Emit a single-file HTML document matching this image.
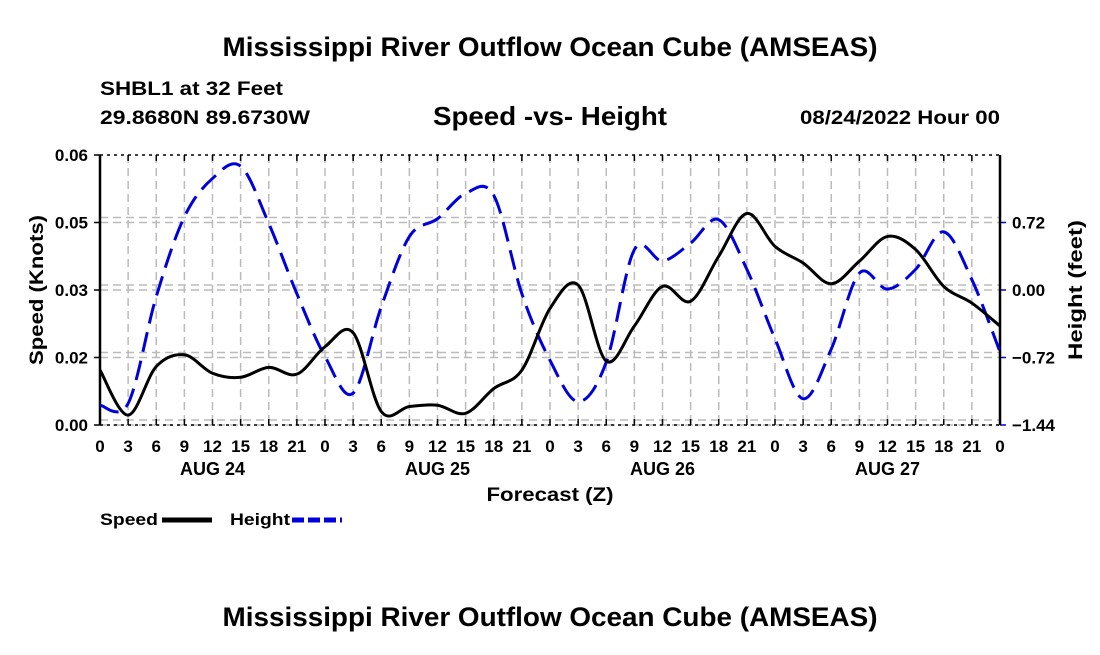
<!DOCTYPE html>
<html><head><meta charset="utf-8"><style>
body{margin:0;background:#fff;width:1100px;height:650px;overflow:hidden;font-family:"Liberation Sans",sans-serif}
svg text{font-family:"Liberation Sans",sans-serif;font-weight:bold;fill:#000}
</style></head><body>
<svg id="chart" width="1100" height="650" xmlns="http://www.w3.org/2000/svg">
<text x="550" y="56" font-size="27" text-anchor="middle" textLength="655" lengthAdjust="spacingAndGlyphs">Mississippi River Outflow Ocean Cube (AMSEAS)</text>
<text x="100" y="95" font-size="19" textLength="183" lengthAdjust="spacingAndGlyphs">SHBL1 at 32 Feet</text>
<text x="100" y="124" font-size="19" textLength="210" lengthAdjust="spacingAndGlyphs">29.8680N  89.6730W</text>
<text x="550" y="125" font-size="26" text-anchor="middle" textLength="234" lengthAdjust="spacingAndGlyphs">Speed -vs- Height</text>
<text x="1000" y="124" font-size="19" text-anchor="end" textLength="200" lengthAdjust="spacingAndGlyphs">08/24/2022 Hour 00</text>
<g id="grid"></g><g id="axes"></g><g id="series"></g>
<text x="550" y="501" font-size="19" text-anchor="middle" textLength="127" lengthAdjust="spacingAndGlyphs">Forecast (Z)</text>
<text transform="translate(43,290) rotate(-90)" font-size="19" text-anchor="middle" textLength="150" lengthAdjust="spacingAndGlyphs">Speed (Knots)</text>
<text transform="translate(1082,290) rotate(-90)" font-size="19" text-anchor="middle" textLength="140" lengthAdjust="spacingAndGlyphs">Height (feet)</text>
<g>
<text x="100" y="525" font-size="17" textLength="58" lengthAdjust="spacingAndGlyphs">Speed</text>
<line x1="162" y1="520" x2="212" y2="520" stroke="#000" stroke-width="5"/>
<text x="230" y="525" font-size="17" textLength="60" lengthAdjust="spacingAndGlyphs">Height</text>
<line x1="292" y1="520" x2="342" y2="520" stroke="#0000dd" stroke-width="5" stroke-dasharray="12,4"/>
</g>
<text x="550" y="626" font-size="27" text-anchor="middle" textLength="655" lengthAdjust="spacingAndGlyphs">Mississippi River Outflow Ocean Cube (AMSEAS)</text>
</svg>
<script>
const hours=[0,3,6,9,12,15,18,21,24,27,30,33,36,39,42,45,48,51,54,57,60,63,66,69,72,75,78,81,84,87,90,93,96];
const speedValues=[0.0122,0.0022,0.013,0.0156,0.0115,0.0106,0.0128,0.0113,0.0174,0.0205,0.003,0.0041,0.0044,0.0026,0.0081,0.0122,0.0259,0.0311,0.0142,0.022,0.0308,0.0275,0.0375,0.047,0.0397,0.036,0.0314,0.0364,0.0419,0.039,0.0308,0.0271,0.022];
const heightValues=[-1.23,-1.21,-0.07,0.78,1.19,1.32,0.71,-0.04,-0.71,-1.10,-0.18,0.57,0.76,1.03,1.01,-0.04,-0.75,-1.19,-0.77,0.43,0.31,0.50,0.75,0.22,-0.52,-1.16,-0.63,0.18,0.01,0.22,0.62,0.11,-0.66];
const xTickLabels=["0","3","6","9","12","15","18","21"];
const dayLabels=["AUG 24","AUG 25","AUG 26","AUG 27"];
const leftTicks=[0,0.015,0.03,0.045,0.06];
const leftTickLabels=["0.00","0.02","0.03","0.05","0.06"];
const rightTicks=[-1.44,-0.72,0,0.72];
const rightTickLabels=["\u22121.44","\u22120.72","0.00","0.72"];
const X0=100,X1=1000,Y0=425,Y1=155;
const xs=h=>X0+(h/96)*(X1-X0);
const yL=v=>Y0-(v/0.06)*(Y0-Y1);
const yR=v=>Y0-((v+1.44)/2.88)*(Y0-Y1);
const NS="http://www.w3.org/2000/svg";
function mk(tag,attrs,parent){const e=document.createElementNS(NS,tag);for(const k in attrs)e.setAttribute(k,attrs[k]);parent.appendChild(e);return e;}
const grid=document.getElementById('grid'),axes=document.getElementById('axes'),series=document.getElementById('series');
for(let h=0;h<=96;h+=3){
 const x=xs(h);
 if(h>0&&h<96){const g=mk('line',{x1:x,y1:Y1,x2:x,y2:Y0,stroke:'#bbb','stroke-width':1.5,'stroke-dasharray':'8,5'},grid);
 
 }
 mk('line',{x1:x,y1:Y0,x2:x,y2:Y0-6,stroke:'#000','stroke-width':1.5},axes);
 mk('line',{x1:x,y1:Y1,x2:x,y2:Y1+6,stroke:'#000','stroke-width':1.5},axes);
 const t=mk('text',{x:x,y:452,'font-size':17,'text-anchor':'middle'},axes);
 t.textContent=h===96?"0":xTickLabels[(h%24)/3];
 
 
}
dayLabels.forEach((d,i)=>{const t=mk('text',{x:xs(i*24+12),y:475,'font-size':18,'text-anchor':'middle'},axes);t.textContent=d;
 
 });
leftTicks.forEach((v,i)=>{const y=yL(v);
 if(i<4){const g=mk('line',{x1:X0,y1:y,x2:X1,y2:y,stroke:'#bbb','stroke-width':1.5,'stroke-dasharray':'8,5'},grid);
 
 }
 mk('line',{x1:X0-6,y1:y,x2:X0,y2:y,stroke:'#000','stroke-width':1.5},axes);
 const t=mk('text',{x:X0-12,y:y+6,'font-size':17,'text-anchor':'end'},axes);t.textContent=leftTickLabels[i];
 
 });
rightTicks.forEach((v,i)=>{const y=yR(v);
 const g=mk('line',{x1:X0,y1:y-5,x2:X1,y2:y-5,stroke:'#bbb','stroke-width':1.5,'stroke-dasharray':'8,5'},grid);
 
 
 mk('line',{x1:X1,y1:y,x2:X1+6,y2:y,stroke:'#0000dd','stroke-width':1.5},axes);
 const t=mk('text',{x:X1+12,y:y+6,'font-size':17},axes);t.textContent=rightTickLabels[i];
 
 });
mk('line',{x1:X0,y1:Y1,x2:X1,y2:Y1,stroke:'#000','stroke-width':1.5,'stroke-dasharray':'3,4'},axes);
mk('line',{x1:X0,y1:Y0,x2:X1,y2:Y0,stroke:'#000','stroke-width':1.5,'stroke-dasharray':'3,4'},axes);
mk('line',{x1:X0,y1:Y1,x2:X0,y2:Y0,stroke:'#000','stroke-width':2.5},axes);
mk('line',{x1:X1,y1:Y1,x2:X1,y2:Y0,stroke:'#000','stroke-width':2.5},axes);
function smooth(pts){let d=`M${pts[0][0]},${pts[0][1]}`;
 for(let i=0;i<pts.length-1;i++){const p0=pts[i-1]||pts[i],p1=pts[i],p2=pts[i+1],p3=pts[i+2]||p2;
 d+=` C${p1[0]+(p2[0]-p0[0])/6},${p1[1]+(p2[1]-p0[1])/6} ${p2[0]-(p3[0]-p1[0])/6},${p2[1]-(p3[1]-p1[1])/6} ${p2[0]},${p2[1]}`;}
 return d;}
const hp=mk('path',{d:smooth(hours.map((h,i)=>[xs(h),yR(heightValues[i])])),fill:'none',stroke:'#0000dd','stroke-width':3,'stroke-dasharray':'20,9'},series);


const sp=mk('path',{d:smooth(hours.map((h,i)=>[xs(h),yL(speedValues[i])])),fill:'none',stroke:'#000','stroke-width':3},series);


</script>
</body></html>
